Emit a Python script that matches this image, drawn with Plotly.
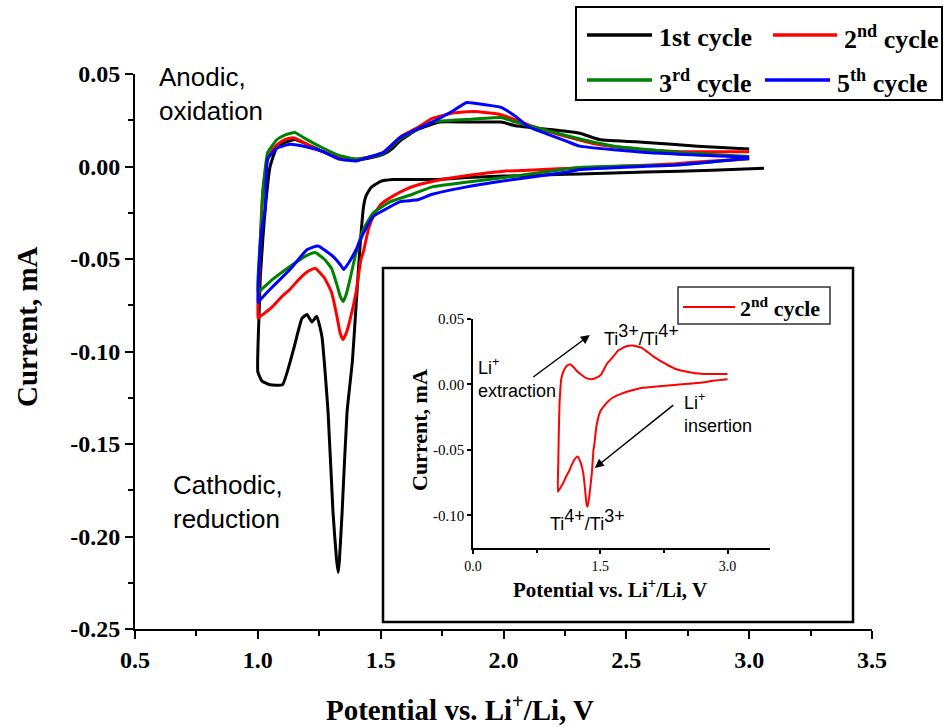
import plotly.graph_objects as go

# ---------------- data (potential V, current mA), in scan order ----------------
v_c1 = [3.06, 2.85, 2.58, 2.31, 2.19, 2.00, 1.85, 1.74, 1.60, 1.55, 1.50, 1.46, 1.44, 1.43,
        1.415, 1.40, 1.385, 1.363, 1.343, 1.332, 1.327, 1.32, 1.306, 1.286, 1.261, 1.24, 1.22,
        1.20, 1.18, 1.145, 1.10, 1.05, 1.017, 1.00,
        1.005, 1.01, 1.02, 1.03, 1.05, 1.08, 1.15, 1.20, 1.265, 1.33, 1.40, 1.45, 1.51, 1.55,
        1.58, 1.65, 1.74, 1.85, 1.99, 2.05, 2.19, 2.31, 2.39, 2.58, 2.79, 3.00]
i_c1 = [-0.001, -0.002, -0.003, -0.004, -0.0045, -0.0052, -0.006, -0.007, -0.007, -0.007,
        -0.008, -0.0115, -0.016, -0.022, -0.045, -0.075, -0.105, -0.133, -0.187, -0.213,
        -0.2195, -0.212, -0.187, -0.133, -0.092, -0.081, -0.084, -0.080, -0.082, -0.099,
        -0.118, -0.118, -0.116, -0.111,
        -0.080, -0.060, -0.040, -0.023, 0.000, 0.011, 0.0146, 0.012, 0.008, 0.0045, 0.0035,
        0.0045, 0.0065, 0.010, 0.014, 0.020, 0.024, 0.024, 0.024, 0.022, 0.020, 0.018, 0.0146,
        0.013, 0.011, 0.0095]

v_c2 = [3.00, 2.85, 2.70, 2.50, 2.30, 2.10, 2.00, 1.90, 1.75, 1.65, 1.60, 1.55, 1.50, 1.47,
        1.45, 1.43, 1.42, 1.40, 1.375, 1.36, 1.347, 1.335, 1.322, 1.30, 1.27, 1.233, 1.20,
        1.16, 1.13, 1.10, 1.06, 1.03, 1.01, 1.00,
        1.005, 1.01, 1.02, 1.03, 1.04, 1.06, 1.08, 1.11, 1.143, 1.18, 1.22, 1.265, 1.33,
        1.40, 1.45, 1.51, 1.58, 1.65, 1.71, 1.80, 1.88, 1.99, 2.12, 2.26, 2.38, 2.52, 2.72,
        2.85, 3.00]
i_c2 = [0.004, 0.003, 0.0015, 0.0003, -0.0008, -0.002, -0.0025, -0.004, -0.007, -0.010,
        -0.0125, -0.016, -0.0205, -0.027, -0.034, -0.046, -0.050, -0.068, -0.083, -0.090,
        -0.0935, -0.090, -0.081, -0.068, -0.060, -0.055, -0.057, -0.062, -0.0665, -0.070,
        -0.0757, -0.079, -0.081, -0.082,
        -0.060, -0.040, -0.014, -0.003, 0.004, 0.009, 0.012, 0.0145, 0.0155, 0.0135, 0.0105,
        0.008, 0.005, 0.004, 0.005, 0.0075, 0.016, 0.021, 0.026, 0.029, 0.0297, 0.028,
        0.0216, 0.016, 0.012, 0.0097, 0.008, 0.008, 0.008]

v_c3 = [3.00, 2.72, 2.31, 2.00, 1.71, 1.63, 1.54, 1.47, 1.43, 1.40, 1.375, 1.36, 1.347,
        1.335, 1.322, 1.30, 1.27, 1.233, 1.20, 1.131, 1.06, 1.01, 1.00,
        1.005, 1.015, 1.02, 1.04, 1.078, 1.11, 1.15, 1.20, 1.265, 1.33, 1.40, 1.45, 1.51,
        1.58, 1.71, 1.85, 1.99, 2.05, 2.19, 2.32, 2.45, 2.72, 3.00]
i_c3 = [0.0045, 0.001, -0.0005, -0.006, -0.011, -0.015, -0.019, -0.025, -0.034, -0.0465,
        -0.061, -0.069, -0.073, -0.070, -0.064, -0.055, -0.050, -0.0465, -0.048, -0.054,
        -0.061, -0.067, -0.0675,
        -0.050, -0.030, -0.014, 0.0075, 0.0146, 0.017, 0.0184, 0.0145, 0.010, 0.006, 0.004,
        0.005, 0.007, 0.015, 0.024, 0.0254, 0.0265, 0.024, 0.019, 0.0146, 0.011, 0.0076,
        0.0054]

v_c5 = [3.00, 2.72, 2.31, 2.26, 1.99, 1.85, 1.71, 1.65, 1.58, 1.54, 1.47, 1.43, 1.40, 1.37,
        1.35, 1.335, 1.306, 1.245, 1.20, 1.131, 1.06, 1.01, 1.00,
        1.005, 1.015, 1.03, 1.04, 1.078, 1.131, 1.20, 1.265, 1.33, 1.40, 1.45, 1.51, 1.58,
        1.71, 1.79, 1.85, 1.92, 1.99, 2.05, 2.10, 2.26, 2.31, 2.58, 3.00]
i_c5 = [0.0045, 0.001, -0.0016, -0.003, -0.008, -0.011, -0.015, -0.018, -0.019, -0.0216,
        -0.027, -0.036, -0.045, -0.052, -0.0557, -0.053, -0.0486, -0.043, -0.045, -0.0557,
        -0.065, -0.072, -0.0735,
        -0.055, -0.035, -0.023, 0.004, 0.010, 0.012, 0.0105, 0.008, 0.004, 0.003, 0.005,
        0.0075, 0.0157, 0.024, 0.0297, 0.0346, 0.0335, 0.032, 0.027, 0.0216, 0.0135, 0.011,
        0.0076, 0.005]

cycle_names = ["1st cycle", "2<sup>nd</sup> cycle", "3<sup>rd</sup> cycle", "5<sup>th</sup> cycle"]
cycle_colors = ["#000000", "#ff0000", "#008000", "#0000ff"]

main_xticks = [0.5, 1.0, 1.5, 2.0, 2.5, 3.0, 3.5]
main_xticktext = ["0.5", "1.0", "1.5", "2.0", "2.5", "3.0", "3.5"]
main_yticks = [0.05, 0.0, -0.05, -0.10, -0.15, -0.20, -0.25]
main_yticktext = ["0.05", "0.00", "-0.05", "-0.10", "-0.15", "-0.20", "-0.25"]
inset_xticks = [0.0, 1.5, 3.0]
inset_xticktext = ["0.0", "1.5", "3.0"]
inset_yticks = [0.05, 0.0, -0.05, -0.10]
inset_yticktext = ["0.05", "0.00", "-0.05", "-0.10"]

# ---------------- figure ----------------
W, H = 945, 727
L, R, T, B = 135, 73, 74, 98
PW, PH = W - L - R, H - T - B


def px(x):
    return (x - L) / PW


def py(y):
    return (H - B - y) / PH


SERIF = "Liberation Serif"
SANS = "Liberation Sans"

fig = go.Figure()
series = [(v_c1, i_c1), (v_c2, i_c2), (v_c3, i_c3), (v_c5, i_c5)]
for (vv, ii), nm, col in zip(series, cycle_names, cycle_colors):
    fig.add_trace(go.Scatter(x=vv, y=ii, mode="lines", name=nm,
                             line=dict(color=col, width=3, shape="spline", smoothing=0.4),
                             showlegend=False))

# inset: 2nd cycle
fig.add_trace(go.Scatter(x=v_c2, y=i_c2, mode="lines", xaxis="x2", yaxis="y2",
                         line=dict(color="#ff0000", width=2, shape="spline", smoothing=0.4),
                         showlegend=False))

fig.update_layout(
    width=W, height=H, margin=dict(l=L, r=R, t=T, b=B),
    paper_bgcolor="white", plot_bgcolor="white",
    xaxis=dict(range=[0.5, 3.5], showgrid=False, zeroline=False, showline=True,
               linecolor="black", linewidth=2, ticks="outside", ticklen=8, tickwidth=2,
               tickcolor="black", tickvals=main_xticks, ticktext=main_xticktext,
               minor=dict(ticks="outside", ticklen=5, tickwidth=2, dtick=0.25, tick0=0.5,
                          tickcolor="black"),
               tickfont=dict(family=SERIF, size=24, color="black", weight="bold")),
    yaxis=dict(range=[-0.25, 0.05], showgrid=False, zeroline=False, showline=True,
               linecolor="black", linewidth=2, ticks="outside", ticklen=8, tickwidth=2,
               tickcolor="black", tickvals=main_yticks, ticktext=main_yticktext,
               minor=dict(ticks="outside", ticklen=5, tickwidth=2, dtick=0.025, tick0=0.05,
                          tickcolor="black"),
               tickfont=dict(family=SERIF, size=24, color="black", weight="bold")),
    xaxis2=dict(domain=[px(473), px(770)], anchor="y2", range=[0, 3.5], showgrid=False,
                zeroline=False, showline=True, linecolor="black", linewidth=1.5,
                ticks="outside", ticklen=4, tickwidth=1.5, tickcolor="black",
                tickvals=inset_xticks, ticktext=inset_xticktext,
                minor=dict(ticks="outside", ticklen=3, tickwidth=1.5, dtick=0.75, tick0=0,
                           tickcolor="black"),
                tickfont=dict(family=SERIF, size=14, color="black")),
    yaxis2=dict(domain=[py(548), py(319)], anchor="x2", range=[-0.125, 0.05],
                showgrid=False, zeroline=False, showline=True, linecolor="black",
                linewidth=1.5, ticks="outside", ticklen=4, tickwidth=1.5, tickcolor="black",
                tickvals=inset_yticks, ticktext=inset_yticktext,
                tickfont=dict(family=SERIF, size=15, color="black")),
)

shapes = []
# inset frame
shapes.append(dict(type="rect", xref="paper", yref="paper", x0=px(383), x1=px(853),
                   y0=py(622), y1=py(268), line=dict(color="black", width=2.5),
                   fillcolor="white", layer="below"))
# main legend frame
shapes.append(dict(type="rect", xref="paper", yref="paper", x0=px(576), x1=px(942),
                   y0=py(100), y1=py(7), line=dict(color="black", width=2)))
# inset legend frame
shapes.append(dict(type="rect", xref="paper", yref="paper", x0=px(678), x1=px(830),
                   y0=py(324), y1=py(287), line=dict(color="#333333", width=1.5)))

annotations = []
# main legend entries
leg_pos = [(587, 652, 35, 657), (773, 837, 35, 842), (587, 652, 80, 657), (765, 830, 80, 835)]
for (x0, x1, yy, xt), nm, col in zip(leg_pos, cycle_names, cycle_colors):
    shapes.append(dict(type="line", xref="paper", yref="paper", x0=px(x0), x1=px(x1),
                       y0=py(yy), y1=py(yy), line=dict(color=col, width=3.5)))
    annotations.append(dict(xref="paper", yref="paper", x=px(xt), y=py(yy + 2),
                            xanchor="left", yanchor="middle", showarrow=False,
                            text="<b>" + nm + "</b>",
                            font=dict(family=SERIF, size=26, color="black")))
# inset legend entry
shapes.append(dict(type="line", xref="paper", yref="paper", x0=px(683), x1=px(735),
                   y0=py(307), y1=py(307), line=dict(color="#ff0000", width=2)))
annotations.append(dict(xref="paper", yref="paper", x=px(738), y=py(307),
                        xanchor="left", yanchor="middle", showarrow=False,
                        text="<b>" + cycle_names[1] + "</b>",
                        font=dict(family=SERIF, size=22, color="black")))

# axis titles
annotations.append(dict(xref="paper", yref="paper", x=px(460), y=py(708), xanchor="center",
                        yanchor="middle", showarrow=False,
                        text="<b>Potential vs. Li<sup>+</sup>/Li, V</b>",
                        font=dict(family=SERIF, size=29, color="black")))
annotations.append(dict(xref="paper", yref="paper", x=px(27), y=py(327), xanchor="center",
                        yanchor="middle", showarrow=False, textangle=-90,
                        text="<b>Current, mA</b>",
                        font=dict(family=SERIF, size=29, color="black")))
# inset axis titles
annotations.append(dict(xref="paper", yref="paper", x=px(610), y=py(588), xanchor="center",
                        yanchor="middle", showarrow=False,
                        text="<b>Potential vs. Li<sup>+</sup>/Li, V</b>",
                        font=dict(family=SERIF, size=21, color="black")))
annotations.append(dict(xref="paper", yref="paper", x=px(419), y=py(430), xanchor="center",
                        yanchor="middle", showarrow=False, textangle=-90,
                        text="<b>Current, mA</b>",
                        font=dict(family=SERIF, size=22, color="black")))

# region labels
annotations.append(dict(xref="paper", yref="paper", x=px(157), y=py(60), xanchor="left",
                        yanchor="top", showarrow=False, align="left",
                        text="Anodic,<br>oxidation",
                        font=dict(family=SANS, size=26, color="black")))
annotations.append(dict(xref="paper", yref="paper", x=px(171), y=py(468), xanchor="left",
                        yanchor="top", showarrow=False, align="left",
                        text="Cathodic,<br>reduction",
                        font=dict(family=SANS, size=26, color="black")))

# inset labels
big = "<span style='font-size:18px'>%s</span>"
annotations.append(dict(xref="paper", yref="paper", x=px(476), y=py(378), xanchor="left",
                        yanchor="middle", showarrow=False, align="left",
                        text="Li<sup>+</sup><br>extraction",
                        font=dict(family=SANS, size=18, color="black")))
annotations.append(dict(xref="paper", yref="paper", x=px(682), y=py(413), xanchor="left",
                        yanchor="middle", showarrow=False, align="left",
                        text="Li<sup>+</sup><br>insertion",
                        font=dict(family=SANS, size=18, color="black")))
annotations.append(dict(xref="paper", yref="paper", x=px(602), y=py(335), xanchor="left",
                        yanchor="middle", showarrow=False,
                        text="Ti<sup>" + big % "3+" + "</sup>/Ti<sup>" + big % "4+" + "</sup>",
                        font=dict(family=SANS, size=18, color="black")))
annotations.append(dict(xref="paper", yref="paper", x=px(548), y=py(520), xanchor="left",
                        yanchor="middle", showarrow=False,
                        text="Ti<sup>" + big % "4+" + "</sup>/Ti<sup>" + big % "3+" + "</sup>",
                        font=dict(family=SANS, size=18, color="black")))
# arrows (head in inset data coords, tail offset in pixels)
annotations.append(dict(xref="x2", yref="y2", x=(590 - 473) / 85, y=(384 - 335) / 1300,
                        ax=-58, ay=43, text="", showarrow=True, arrowhead=2, arrowsize=1.2,
                        arrowwidth=1.5, arrowcolor="black"))
annotations.append(dict(xref="x2", yref="y2", x=(595 - 473) / 85, y=(384 - 467) / 1300,
                        ax=80, ay=-64, text="", showarrow=True, arrowhead=2, arrowsize=1.2,
                        arrowwidth=1.5, arrowcolor="black"))

fig.update_layout(shapes=shapes, annotations=annotations)
fig.write_html("out.html")
